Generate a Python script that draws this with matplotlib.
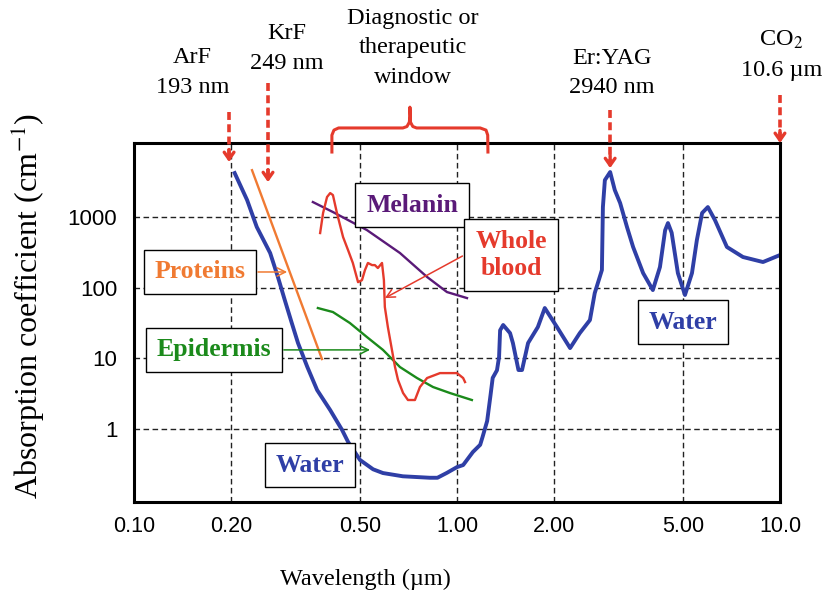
import matplotlib
matplotlib.use("Agg")
import matplotlib.pyplot as plt

plt.rcParams['font.family'] = ['Liberation Serif', 'DejaVu Serif']
plt.rcParams['mathtext.fontset'] = 'stix'

# absorption spectra (wavelength in um, coefficient in 1/cm)
water_wl = [0.205, 0.224, 0.240, 0.264, 0.279, 0.293, 0.308, 0.322, 0.344, 0.369,
            0.405, 0.441, 0.460, 0.501, 0.550, 0.590, 0.680, 0.824, 0.870, 0.930,
            1.00, 1.045, 1.12, 1.18, 1.20, 1.24, 1.27, 1.29, 1.33, 1.35, 1.36,
            1.39, 1.46, 1.49, 1.55, 1.59, 1.66, 1.78, 1.87, 2.04, 2.24, 2.40,
            2.58, 2.67, 2.81, 2.83, 2.87, 2.98, 3.08, 3.20, 3.36, 3.51, 3.77,
            4.04, 4.25, 4.41, 4.50, 4.62, 4.83, 5.08, 5.34, 5.53, 5.74, 5.98,
            6.29, 6.85, 7.68, 8.86, 10.0]
water_abs = [4190, 1740, 723, 310, 142, 67, 31.7, 16.5, 7.6, 3.57,
             1.86, 0.97, 0.66, 0.366, 0.27, 0.239, 0.215, 0.205, 0.205, 0.24,
             0.29, 0.31, 0.474, 0.60, 0.773, 1.3, 3.0, 5.3, 6.8, 10.5, 25,
             29.7, 22.8, 16.5, 6.85, 6.85, 16.5, 27.8, 51.6, 27.8, 14.0, 22.8,
             34.9, 84, 178, 1384, 3330, 4330, 2410, 1578, 723, 377, 161,
             92.7, 196, 650, 822, 600, 161, 78.9, 161, 473, 1140, 1384,
             907, 377, 272, 231, 290]

protein_wl = [0.232, 0.382]
protein_abs = [4600, 9.8]

melanin_wl = [0.358, 0.413, 0.526, 0.666, 0.808, 0.931, 1.074]
melanin_abs = [1630, 1177, 655, 310, 142, 86.9, 71.4]

epidermis_wl = [0.371, 0.413, 0.466, 0.526, 0.590, 0.666, 0.752, 0.843, 0.951, 1.112]
epidermis_abs = [51.6, 45.3, 31.7, 20.1, 13.2, 7.55, 5.28, 3.94, 3.24, 2.58]

blood_wl = [0.377, 0.385, 0.396, 0.405, 0.413, 0.425, 0.444, 0.460, 0.476, 0.494,
            0.508, 0.519, 0.530, 0.546, 0.557, 0.569, 0.586, 0.594, 0.598, 0.611,
            0.629, 0.643, 0.657, 0.681, 0.705, 0.741, 0.768, 0.808, 0.886, 1.00,
            1.045, 1.059]
blood_abs = [594, 1140, 1919, 2183, 2046, 1140, 521, 341, 224, 120,
             128, 178, 224, 209, 209, 190, 224, 128, 53.3, 27.8,
             13.2, 7.55, 4.94, 3.24, 2.58, 2.58, 3.94, 5.28, 6.2, 6.2,
             5.28, 4.63]

xticks = [0.1, 0.2, 0.5, 1.0, 2.0, 5.0, 10.0]
xtick_labels = ['0.10', '0.20', '0.50', '1.00', '2.00', '5.00', '10.0']
yticks = [1, 10, 100, 1000]
ytick_labels = ['1', '10', '100', '1000']

# lasers: label, position of label, wavelength of arrow
laser_names = ['ArF\n193 nm', 'KrF\n249 nm', 'Er:YAG\n2940 nm', 'CO$_2$\n10.6 \u00b5m']
laser_text_x = [0.152, 0.298, 3.02, 10.1]
laser_text_y = [1.196, 1.264, 1.195, 1.245]
laser_arrow_x = [0.197, 0.260, 2.98, 10.0]
laser_arrow_top = [1.086, 1.167, 1.092, 1.134]
laser_arrow_tip = [0.947, 0.891, 0.930, 1.0]

blue = '#2f3fa6'
orange = '#f07a32'
purple = '#5a1a78'
green = '#1b8a1b'
red = '#e53a2c'

fig = plt.figure(figsize=(8.28, 5.99), dpi=100)
ax = fig.add_axes([0.1618, 0.1619, 0.7802, 0.5993])
ax.set_xscale('log')
ax.set_yscale('log')
ax.set_xlim(0.1, 10.0)
ax.set_ylim(0.093, 11140)

ax.plot(water_wl, water_abs, color=blue, lw=2.8, zorder=3)
ax.plot(protein_wl, protein_abs, color=orange, lw=1.7, zorder=3)
ax.plot(melanin_wl, melanin_abs, color=purple, lw=1.7, zorder=3)
ax.plot(epidermis_wl, epidermis_abs, color=green, lw=1.7, zorder=3)
ax.plot(blood_wl, blood_abs, color=red, lw=1.7, zorder=3)

ax.set_xticks(xticks)
ax.set_xticklabels(xtick_labels, family='Liberation Sans', fontsize=15.5)
ax.set_yticks(yticks)
ax.set_yticklabels(ytick_labels, family='Liberation Sans', fontsize=16)
ax.minorticks_off()
ax.tick_params(axis='both', length=0)
ax.tick_params(axis='x', pad=10)
ax.tick_params(axis='y', pad=12)
ax.grid(True, which='major', color='#222222', linestyle=(0, (4, 2.5)), lw=1.0)
for s in ax.spines.values():
    s.set_linewidth(2.2)
    s.set_zorder(5)

ax.set_xlabel('Wavelength (\u00b5m)', fontsize=17.5)
ax.xaxis.set_label_coords(0.358, -0.185)
ax.set_ylabel('Absorption coefficient (cm$^{-1}$)', fontsize=23)
ax.yaxis.set_label_coords(-0.135, 0.545)

# boxed labels
box = dict(boxstyle='square,pad=0.42', fc='white', ec='black', lw=1.0)
lab = dict(fontsize=18.5, fontweight='bold', ha='center', va='center', zorder=6, bbox=box)
ax.text(0.726, 1479, 'Melanin', color=purple, **lab)
ax.text(1.47, 290, 'Whole\nblood', color=red, linespacing=1.25, **lab)
ax.text(0.160, 167, 'Proteins', color=orange, **lab)
ax.text(0.177, 13.2, 'Epidermis', color=green, **lab)
ax.text(0.351, 0.31, 'Water', color=blue, **lab)
ax.text(5.01, 32.7, 'Water', color=blue, **lab)

arw = dict(arrowstyle='->,head_length=0.6,head_width=0.3', lw=1.1, shrinkA=0, shrinkB=0)
ax.annotate('', xy=(0.298, 167), xytext=(0.242, 167), arrowprops=dict(color=orange, **arw), zorder=6)
ax.annotate('', xy=(0.538, 13.2), xytext=(0.291, 13.2), arrowprops=dict(color=green, **arw), zorder=6)
ax.annotate('', xy=(0.598, 71.4), xytext=(1.04, 281), arrowprops=dict(color=red, **arw), zorder=6)

# laser lines above the plot
xt = ax.get_xaxis_transform()
for name, tx, ty, axx, a0, a1 in zip(laser_names, laser_text_x, laser_text_y,
                                     laser_arrow_x, laser_arrow_top, laser_arrow_tip):
    ax.text(tx, ty, name, transform=xt, ha='center', va='center', fontsize=17.5,
            linespacing=1.55)
    ax.plot([axx, axx], [a0, a1 + 0.02], transform=xt, color=red, lw=2.6,
            linestyle=(0, (2.2, 1.2)), clip_on=False, zorder=7)
    ax.annotate('', xy=(axx, a1), xytext=(axx, a1 + 0.035), xycoords=xt, textcoords=xt,
                arrowprops=dict(arrowstyle='->,head_length=0.5,head_width=0.35',
                                color=red, lw=2.4, shrinkA=0, shrinkB=0), zorder=7)

# diagnostic / therapeutic window brace
ax.text(0.731, 1.265, 'Diagnostic or\ntherapeutic\nwindow', transform=xt, ha='center',
        va='center', fontsize=17.5, linespacing=1.55)
brace_x = [0.41, 0.41, 0.416, 0.43, 0.68, 0.70, 0.712, 0.715, 0.715, 0.718, 0.73, 0.75,
           1.18, 1.23, 1.245, 1.247]
brace_y = [0.975, 1.022, 1.036, 1.042, 1.042, 1.046, 1.058, 1.075, 1.10, 1.058, 1.046,
           1.042, 1.042, 1.036, 1.022, 0.975]
ax.plot(brace_x, brace_y, transform=xt, color=red, lw=2.2, clip_on=False, zorder=7,
        solid_joinstyle='round')

fig.savefig('out.png', dpi=100)
